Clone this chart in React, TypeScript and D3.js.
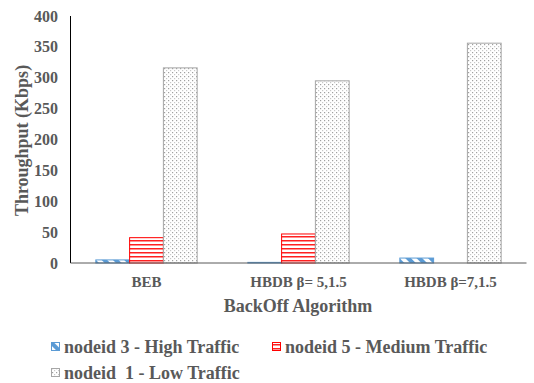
import React from "react";
import * as d3 from "d3";

const categories = ["BEB", "HBDB β= 5,1.5", "HBDB β=7,1.5"];
const seriesNames = ["nodeid 3 - High Traffic", "nodeid 5 - Medium Traffic", "nodeid  1 - Low Traffic"];
const highTraffic = [5, 1, 8];
const mediumTraffic = [41, 47, 0];
const lowTraffic = [316, 295, 356];
const yTicks = [0, 50, 100, 150, 200, 250, 300, 350, 400];

const W = 534, H = 383;
const left = 70.5, right = 526.5, top = 16, bottom = 263;
const textColor = "#595959";
const font = "Liberation Serif";

export default function App() {
  const x0 = d3.scaleBand<string>().domain(categories).range([left, right]).paddingInner(0).paddingOuter(0);
  const y = d3.scaleLinear().domain([0, 400]).range([bottom, top]);
  const groupW = x0.bandwidth() / (3 + 1.5);
  const x1 = d3.scaleBand<number>().domain([0, 1, 2]).range([0, groupW * 3]);
  const series = [highTraffic, mediumTraffic, lowTraffic];
  const fills = ["url(#pBlue)", "url(#pRed)", "url(#pGray)"];
  const strokes = ["#5B9BD5", "#FF0000", "#A6A6A6"];

  const legendItems = [
    { x: 51, y: 347, i: 0 },
    { x: 272, y: 347, i: 1 },
    { x: 51, y: 373, i: 2 },
  ];

  return (
    <svg width={W} height={H} style={{ position: "absolute", left: 0, top: 0, background: "#fff" }}>
      <defs>
        <pattern id="pBlue" patternUnits="userSpaceOnUse" width="8" height="8" patternTransform="rotate(-45)">
          <rect width="8" height="8" fill="#fff" />
          <rect x="0" y="0" width="4" height="8" fill="#5B9BD5" />
        </pattern>
        <pattern id="pRed" patternUnits="userSpaceOnUse" width="6" height="4">
          <rect width="6" height="4" fill="#fff" />
          <rect x="0" y="0" width="6" height="1.5" fill="#FF2020" />
        </pattern>
        <pattern id="pGray" patternUnits="userSpaceOnUse" width="4" height="4">
          <rect width="4" height="4" fill="#fff" />
          <rect x="0" y="0" width="1.2" height="1.2" fill="#A0A0A0" />
          <rect x="2" y="2" width="1.2" height="1.2" fill="#C8C8C8" />
        </pattern>
      </defs>

      {categories.map((c, ci) => {
        const gx = (x0(c) as number) + (x0.bandwidth() - groupW * 3) / 2;
        return (
          <g key={c}>
            {series.map((s, si) => {
              const v = s[ci];
              if (v <= 0) return null;
              const yy = y(v);
              return (
                <rect key={si} x={gx + (x1(si) as number)} y={yy} width={x1.bandwidth()} height={bottom - yy}
                  fill={fills[si]} stroke={strokes[si]} strokeWidth={1} />
              );
            })}
          </g>
        );
      })}

      <line x1={left} x2={left} y1={top} y2={bottom} stroke="#000" strokeWidth={1} />
      <line x1={left} x2={right} y1={bottom} y2={bottom} stroke="#595959" strokeWidth={1} />

      <g fontFamily={font} fontWeight="bold" fill={textColor}>
        {yTicks.map((t) => (
          <text key={t} x={58} y={y(t)} dy="0.35em" textAnchor="end" fontSize={16}>
            {t}
          </text>
        ))}

        {categories.map((c) => (
          <text key={c} x={(x0(c) as number) + x0.bandwidth() / 2} y={282} dy="0.35em" textAnchor="middle" fontSize={15}>
            {c}
          </text>
        ))}

        <text x={298} y={306} dy="0.35em" textAnchor="middle" fontSize={18}>
          BackOff Algorithm
        </text>
        <text transform={`translate(22,${(top + bottom) / 2 + 1}) rotate(-90)`} textAnchor="middle" dy="0.35em" fontSize={18}>
          Throughput (Kbps)
        </text>

        {legendItems.map((l) => (
          <g key={l.i}>
            <rect x={l.x + 0.5} y={l.y - 4.5} width={8} height={8} fill={fills[l.i]} stroke={strokes[l.i]} strokeWidth={1} />
            <text x={l.x + 13} y={l.y} dy="0.35em" fontSize={18} style={{ whiteSpace: "pre" }}>
              {seriesNames[l.i]}
            </text>
          </g>
        ))}
      </g>
    </svg>
  );
}
